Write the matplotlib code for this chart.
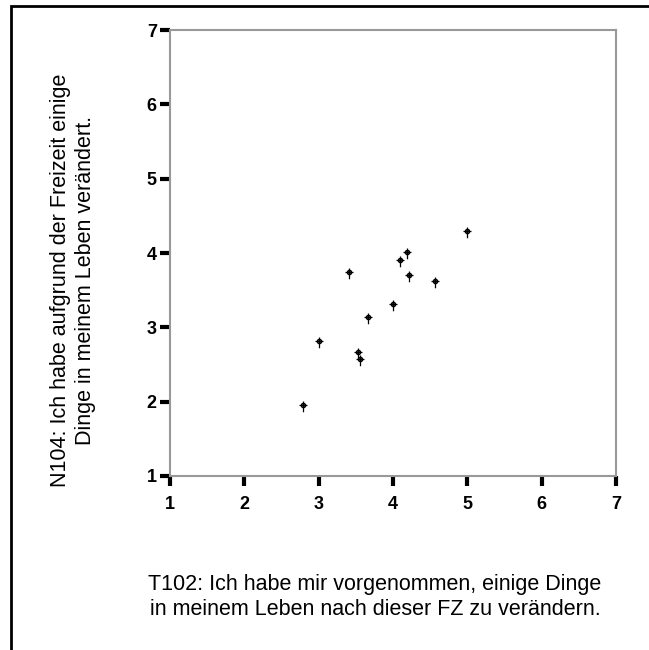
import numpy as np
import matplotlib
matplotlib.use("Agg")
import matplotlib.pyplot as plt
from matplotlib.path import Path
from matplotlib.patches import Rectangle

plt.rcParams['font.family'] = ['Liberation Sans', 'DejaVu Sans']

# data (T102 vs N104)
x_vals = [5.00, 4.19, 4.10, 3.41, 4.21, 4.56, 4.00, 3.66, 3.00, 3.53, 3.56, 2.79]
y_vals = [4.30, 4.01, 3.91, 3.74, 3.70, 3.63, 3.31, 3.14, 2.81, 2.67, 2.58, 1.95]
ticks = [1, 2, 3, 4, 5, 6, 7]
x_label = "T102: Ich habe mir vorgenommen, einige Dinge\nin meinem Leben nach dieser FZ zu verändern."
y_label = "N104: Ich habe aufgrund der Freizeit einige\nDinge in meinem Leben verändert."

W, H = 649, 650
fig = plt.figure(figsize=(W / 100, H / 100), dpi=100)

# outer frame (only top and left visible)
fig.patches.append(Rectangle((10.5 / W, -0.1), 1.2, (H - 5.5) / H + 0.1,
                             transform=fig.transFigure, fill=False,
                             edgecolor='black', linewidth=2))

ax = fig.add_axes([170 / W, (H - 476) / H, (616 - 170) / W, (476 - 30) / H])

# custom SPSS-like marker: circle with cross, longer tail downward
t = np.linspace(0, 2 * np.pi, 25)
r = 0.55
verts = [(r * np.cos(a), r * np.sin(a)) for a in t]
codes = [Path.MOVETO] + [Path.LINETO] * (len(t) - 1)
verts += [(-1.0, 0), (1.0, 0), (0, 1.0), (0, -1.7)]
codes += [Path.MOVETO, Path.LINETO, Path.MOVETO, Path.LINETO]
mk = Path(verts, codes)

ax.scatter(x_vals, y_vals, marker=mk, s=95, facecolors='#666666',
           edgecolors='black', linewidths=0.9, zorder=3)

ax.set_xlim(1, 7)
ax.set_ylim(1, 7)
ax.set_xticks(ticks)
ax.set_yticks(ticks)
ax.set_xticklabels([str(t_) for t_ in ticks], fontweight='bold', fontsize=13)
ax.set_yticklabels([str(t_) for t_ in ticks], fontweight='bold', fontsize=13)
ax.tick_params(direction='out', length=7.5, width=3, color='black')
ax.tick_params(axis='x', pad=7)
ax.tick_params(axis='y', pad=2)
for sp in ax.spines.values():
    sp.set_color('#999999')
    sp.set_linewidth(1.5)

fig.text(73 / W, 1 - 280 / H, y_label, rotation=90, ha='center', va='center',
         multialignment='center', fontsize=15.5, linespacing=1.25)
fig.text(375 / W, 1 - 597 / H, x_label, ha='center', va='center',
         multialignment='center', fontsize=15.5, linespacing=1.25)

fig.savefig("out.png", dpi=100)
